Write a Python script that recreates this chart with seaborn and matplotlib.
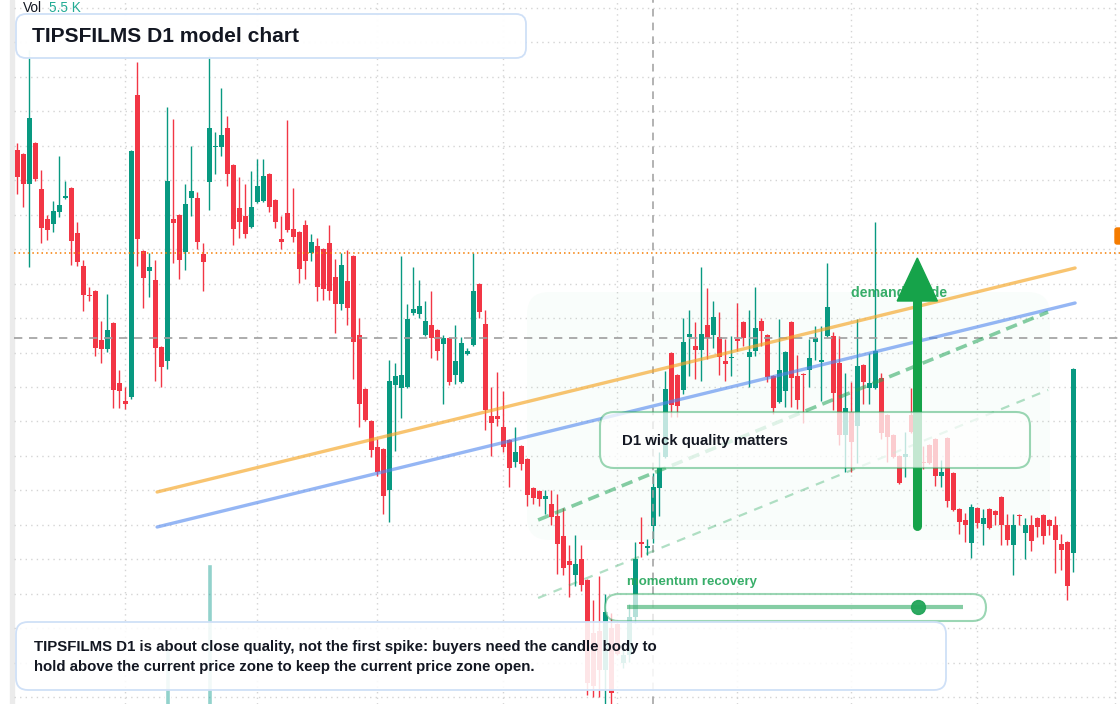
import numpy as np
import pandas as pd
import matplotlib
matplotlib.use("Agg")
import matplotlib.pyplot as plt
import seaborn as sns
from matplotlib.patches import FancyBboxPatch, Polygon, Rectangle
from matplotlib.colors import to_rgba

# daily candles, oldest first
opens = [8.50, 8.46, 8.16, 8.57, 8.11, 7.81, 7.76, 7.88, 8.02, 8.12,
         7.67, 7.34, 7.05, 7.09, 6.60, 6.51, 6.77, 6.17, 5.99, 6.03,
         9.05, 7.49, 7.29, 7.20, 6.53, 6.39, 7.81, 7.85, 7.48, 8.02,
         8.02, 7.46, 8.18, 8.53, 8.53, 8.72, 8.35, 7.92, 7.84, 7.73,
         7.98, 7.99, 8.26, 8.00, 7.61, 7.87, 7.71, 7.68, 7.75, 7.47,
         7.54, 7.51, 7.57, 7.23, 6.96, 7.19, 7.44, 6.65, 6.11, 5.79,
         5.53, 5.51, 5.10, 6.15, 6.12, 6.13, 6.87, 6.86, 6.65, 6.75,
         6.70, 6.56, 6.62, 6.25, 6.18, 6.46, 6.55, 7.16, 6.76, 5.84,
         5.84, 5.73, 5.60, 5.38, 5.54, 5.41, 5.12, 5.09, 5.01, 4.96,
         4.84, 4.64, 4.39, 4.25, 4.41, 4.20, 3.67, 3.69, 3.30, 3.72,
         3.76, 3.37, 3.45, 3.83, 4.58, 4.52, 4.74, 5.12, 5.43, 6.47,
         6.25, 6.10, 6.63, 6.54, 6.50, 6.75, 6.65, 6.63, 6.39, 6.42,
         6.61, 6.78, 6.43, 6.49, 6.79, 6.65, 6.24, 5.98, 6.09, 6.78,
         6.24, 6.26, 6.30, 6.58, 6.38, 6.64, 6.64, 6.37, 5.65, 5.88,
         5.74, 6.35, 6.12, 6.12, 6.22, 5.85, 5.65, 5.44, 5.43, 5.85,
         5.75, 5.38, 5.55, 5.61, 5.24, 5.62, 5.27, 4.91, 4.80, 4.57,
         4.92, 4.76, 4.91, 4.89, 5.03, 4.75, 4.55, 4.85, 4.67, 4.75,
         4.82, 4.85, 4.80, 4.75, 4.56, 4.58, 4.47]
highs = [8.57, 8.47, 9.50, 8.58, 8.30, 7.85, 7.99, 8.44, 8.19, 8.13,
         7.78, 7.40, 7.13, 7.10, 6.79, 7.06, 6.78, 6.30, 6.13, 8.50,
         9.38, 7.50, 7.47, 7.40, 6.54, 8.93, 8.81, 7.86, 8.16, 8.54,
         8.08, 7.57, 9.45, 8.68, 9.12, 8.84, 8.36, 8.23, 8.16, 8.29,
         8.41, 8.41, 8.27, 8.01, 7.84, 8.80, 8.12, 7.69, 7.80, 7.66,
         7.62, 7.52, 7.75, 7.41, 7.47, 7.50, 7.45, 6.82, 6.12, 5.80,
         5.61, 5.52, 6.40, 6.37, 7.44, 6.96, 7.33, 7.20, 6.99, 7.09,
         6.71, 6.65, 6.63, 6.75, 6.63, 6.52, 7.47, 7.17, 6.90, 6.13,
         6.28, 6.09, 5.61, 5.73, 5.55, 5.42, 5.13, 5.10, 5.10, 5.10,
         5.06, 4.92, 4.55, 4.65, 4.55, 4.21, 4.00, 4.24, 4.06, 3.87,
         3.77, 3.53, 3.96, 4.58, 4.83, 4.61, 5.27, 5.48, 6.29, 6.48,
         6.26, 6.82, 6.90, 6.78, 7.33, 7.12, 6.99, 6.88, 6.61, 6.64,
         6.97, 6.79, 6.90, 7.13, 6.82, 6.66, 6.25, 6.81, 6.49, 6.79,
         6.45, 6.27, 6.61, 6.74, 6.74, 7.37, 6.68, 6.64, 6.27, 6.18,
         6.81, 6.36, 6.47, 7.78, 6.27, 5.86, 5.66, 5.45, 5.68, 6.12,
         5.90, 5.54, 5.56, 5.62, 5.40, 5.63, 5.28, 4.92, 4.87, 4.96,
         4.93, 4.91, 4.92, 4.90, 5.04, 4.86, 4.86, 4.86, 4.82, 4.85,
         4.83, 4.86, 4.81, 4.84, 4.66, 4.59, 6.32]
lows = [8.06, 7.93, 7.33, 8.19, 7.57, 7.60, 7.68, 7.83, 8.01, 7.35,
        7.34, 6.89, 6.99, 6.44, 6.37, 6.48, 5.92, 5.92, 5.91, 6.01,
        7.34, 6.92, 7.03, 6.19, 6.13, 6.31, 7.37, 7.21, 7.30, 7.84,
        7.51, 7.09, 7.90, 8.26, 8.44, 8.14, 7.55, 7.62, 7.62, 7.72,
        7.97, 7.98, 7.88, 7.72, 7.51, 7.68, 7.58, 7.17, 7.21, 7.39,
        6.99, 7.00, 7.00, 6.67, 6.90, 6.75, 6.21, 5.73, 5.79, 5.43,
        5.24, 4.86, 4.78, 5.49, 5.82, 6.12, 6.85, 6.82, 6.64, 6.42,
        6.40, 5.96, 6.15, 6.16, 6.17, 6.45, 6.54, 6.82, 5.70, 5.44,
        5.74, 5.48, 5.13, 5.33, 5.30, 4.94, 4.96, 4.94, 4.86, 4.75,
        4.26, 4.25, 4.03, 4.14, 4.09, 3.05, 3.03, 3.03, 2.96, 2.96,
        3.45, 3.32, 3.38, 3.77, 4.43, 4.45, 4.57, 4.84, 5.42, 5.83,
        5.83, 6.06, 6.24, 6.21, 6.19, 6.41, 6.52, 6.25, 6.19, 6.24,
        6.49, 6.54, 6.13, 6.44, 6.54, 6.18, 5.86, 5.97, 5.93, 5.93,
        5.91, 5.77, 6.13, 6.40, 5.99, 6.63, 5.90, 5.55, 5.28, 5.28,
        5.37, 5.96, 5.96, 6.11, 5.61, 5.38, 5.42, 5.16, 5.23, 5.67,
        5.30, 5.31, 5.36, 5.14, 5.13, 4.93, 4.89, 4.66, 4.58, 4.42,
        4.72, 4.55, 4.71, 4.75, 4.55, 4.55, 4.25, 4.75, 4.41, 4.49,
        4.63, 4.56, 4.65, 4.27, 4.30, 4.00, 4.28]
closes = [8.23, 8.16, 8.82, 8.21, 7.72, 7.70, 7.89, 7.95, 8.04, 7.59,
          7.38, 7.05, 7.04, 6.52, 6.51, 6.70, 6.10, 6.09, 5.96, 8.49,
          7.61, 7.22, 7.33, 6.52, 6.33, 8.19, 7.77, 7.40, 7.96, 8.09,
          7.58, 7.38, 8.72, 8.54, 8.65, 8.26, 7.71, 7.78, 7.66, 7.93,
          8.14, 8.24, 7.93, 7.78, 7.58, 7.70, 7.63, 7.31, 7.39, 7.58,
          7.13, 7.11, 7.09, 6.96, 7.35, 6.92, 6.58, 5.96, 5.80, 5.50,
          5.28, 5.04, 6.19, 6.24, 6.25, 6.81, 6.91, 6.94, 6.79, 6.62,
          6.49, 6.62, 6.18, 6.39, 6.57, 6.49, 7.09, 6.88, 5.90, 5.77,
          5.81, 5.53, 5.32, 5.48, 5.36, 5.05, 5.02, 5.01, 5.04, 4.83,
          4.56, 4.32, 4.35, 4.36, 4.15, 3.17, 3.14, 3.30, 3.88, 3.07,
          3.46, 3.45, 3.83, 4.41, 4.56, 4.54, 5.13, 5.32, 6.11, 5.95,
          5.94, 6.58, 6.66, 6.50, 6.66, 6.62, 6.83, 6.43, 6.36, 6.43,
          6.59, 6.62, 6.48, 6.72, 6.69, 6.23, 5.92, 6.30, 6.48, 6.22,
          6.00, 6.25, 6.42, 6.62, 6.40, 6.93, 6.07, 5.65, 5.92, 5.58,
          6.34, 6.18, 6.17, 6.49, 5.67, 5.63, 5.43, 5.17, 5.46, 5.68,
          5.45, 5.37, 5.37, 5.24, 5.28, 4.99, 4.90, 4.78, 4.75, 4.93,
          4.77, 4.82, 4.72, 4.85, 4.75, 4.60, 4.75, 4.84, 4.75, 4.59,
          4.73, 4.64, 4.74, 4.60, 4.50, 4.14, 6.31]

# visible volume spikes (bar index, top of bar on the price scale)
vol_idx = [25, 32]
vol_top = [3.52, 4.36]

# overlays (bar index, price)
orange_trend = ([23.3, 176.3], [5.08, 7.32])
blue_trend = ([23.3, 176.3], [4.73, 6.97])
green_dash = ([86.8, 171.8], [4.80, 6.88])
green_dash_lo = ([86.8, 171.8], [4.02, 6.10])
level_orange = 7.47
level_grey = 6.62
cross_idx = 106
arrow_x, arrow_y0, arrow_base, arrow_tip = 150, 4.74, 6.99, 7.42
vgrid_idx = [18, 40, 60, 81, 100, 120, 139, 160, 183]

df = pd.DataFrame({"open": opens, "high": highs, "low": lows, "close": closes})
df["i"] = np.arange(len(df))

GREEN, RED = "#089981", "#f23645"
TXT = "#131722"
sns.set_theme(style="white")
plt.rcParams["font.family"] = ["Liberation Sans", "DejaVu Sans"]

W, H = 1120, 704
fig = plt.figure(figsize=(W / 100, H / 100), dpi=100, facecolor="white")
ax = fig.add_axes([0, 0, 1, 1])
ax.set_axis_off()
ax.set_xlim(-17.3 / 6, (W - 17.3) / 6)
ax.set_ylim(2.96, 10.0)
T = fig.dpi_scale_trans


def px(x, y):
    return x / 100, (H - y) / 100


def pbox(x0, y0, x1, y1, r, fc, fa, ec, ea, z, lw=1.3):
    p = FancyBboxPatch(px(x0, y1), (x1 - x0) / 100, (y1 - y0) / 100,
                       boxstyle=f"round,pad=0,rounding_size={r / 100}",
                       transform=T, facecolor=to_rgba(fc, fa),
                       edgecolor=to_rgba(ec, ea), lw=lw, zorder=z, clip_on=False)
    ax.add_patch(p)


def ptext(x, y, s, **kw):
    ax.text(*px(x, y), s, transform=T, va="center", ha="left", **kw)


# left strip + grid
ax.add_patch(Rectangle(px(10, H), 0.04, H / 100, transform=T, color="#ebebeb", zorder=0.4))
for g in np.arange(9.92, 2.9, -0.3445):
    ax.axhline(g, xmin=14 / W, color="#d4d4d4", lw=1, ls=(0, (1, 3)), zorder=0.5)
for v in vgrid_idx:
    ax.axvline(v, color="#d4d4d4", lw=1, ls=(0, (1, 3)), zorder=0.5)

# shaded zone behind the right half
pbox(527, 292, 1050, 540, 22, "#22c55e", 0.022, "#22c55e", 0.0, 0.8)

# volume
ax.bar(vol_idx, [t - 2.5 for t in vol_top], bottom=2.5, width=0.8,
       color=to_rgba("#26a69a", 0.5), zorder=1)

# candles
up = df["close"] >= df["open"]
cols = np.where(up, GREEN, RED)
ax.vlines(df["i"], df["low"], df["high"], colors=cols, lw=1, zorder=2)
body_lo = np.minimum(df["open"], df["close"])
body_h = np.maximum((df["close"] - df["open"]).abs(), 0.012)
ax.bar(df["i"], body_h, bottom=body_lo, width=0.82, color=cols, lw=0, zorder=2.1)

# levels
ax.axhline(level_orange, xmin=14 / W, color="#f57c00", lw=1.1, ls=(0, (1, 2)), zorder=2.5)
ax.axhline(level_grey, xmin=14 / W, color="#9e9e9e", lw=1.2, ls=(0, (5, 4)), zorder=2.5)
ax.axvline(cross_idx, color="#9e9e9e", lw=1.1, ls=(0, (5, 4)), zorder=2.5)

# trend lines
sns.lineplot(x=orange_trend[0], y=orange_trend[1], ax=ax, color="#f5a524", alpha=0.65, lw=2.4, zorder=3)
sns.lineplot(x=blue_trend[0], y=blue_trend[1], ax=ax, color="#4f86ee", alpha=0.6, lw=2.4, zorder=3)
ax.plot(*green_dash, color="#22a559", alpha=0.55, lw=2.6, dashes=(3.2, 1.8), zorder=3)
ax.plot(*green_dash_lo, color="#22a559", alpha=0.35, lw=1.6, dashes=(4, 3.5), zorder=3)

# demand guide label + arrow
ptext(851, 293, "demand guide", color="#22a559", fontsize=10.2, fontweight="bold", alpha=0.9, zorder=3.5)
ax.plot([arrow_x, arrow_x], [arrow_y0, arrow_base], color="#16a34a", lw=6.5,
        solid_capstyle="round", zorder=4)
ax.add_patch(Polygon([[arrow_x - 3.35, arrow_base], [arrow_x + 3.35, arrow_base],
                      [arrow_x, arrow_tip]], closed=True, color="#16a34a", zorder=4))

# callout boxes
pbox(600, 412, 1030, 468, 14, "white", 0.75, "#22a559", 0.45, 5, lw=1.5)
ptext(622, 441, "D1 wick quality matters", color=TXT, fontsize=10.8, fontweight="bold", zorder=6)

ptext(627, 582, "momentum recovery", color="#22a559", fontsize=9.5, fontweight="bold", alpha=0.9, zorder=6)
pbox(605, 594, 986, 621, 13.5, "white", 0.7, "#22a559", 0.45, 5, lw=1.5)
ax.plot([6.27, 9.63], [(H - 607) / 100] * 2, transform=T, color="#22a559", alpha=0.55,
        lw=3, solid_capstyle="butt", zorder=6)
ax.plot([9.18], [(H - 607) / 100], transform=T, marker="o", ms=10, color="#22a559",
        alpha=0.95, zorder=6.5)

pbox(16, 622, 946, 690, 12, "white", 0.88, "#cfe0f7", 1.0, 7)
ptext(34, 647, "TIPSFILMS D1 is about close quality, not the first spike: buyers need the candle body to",
      color=TXT, fontsize=10.8, fontweight="bold", zorder=8)
ptext(34, 667, "hold above the current price zone to keep the current price zone open.",
      color=TXT, fontsize=10.8, fontweight="bold", zorder=8)

pbox(16, 14, 526, 58, 10, "white", 0.96, "#cfe0f7", 1.0, 7)
ptext(32, 36, "TIPSFILMS D1 model chart", color=TXT, fontsize=15.1, fontweight="bold", zorder=8)

ptext(23, 8, "Vol", color=TXT, fontsize=9.8, zorder=8)
ptext(49, 8, "5.5 K", color="#22ab94", fontsize=9.8, zorder=8)

# price tag stub on the right edge
ax.add_patch(FancyBboxPatch(px(1115, 244), 0.08, 0.16, boxstyle="round,pad=0,rounding_size=0.02",
                            transform=T, color="#f57c00", zorder=8, clip_on=False))

fig.savefig("out.png", dpi=100, facecolor="white")
